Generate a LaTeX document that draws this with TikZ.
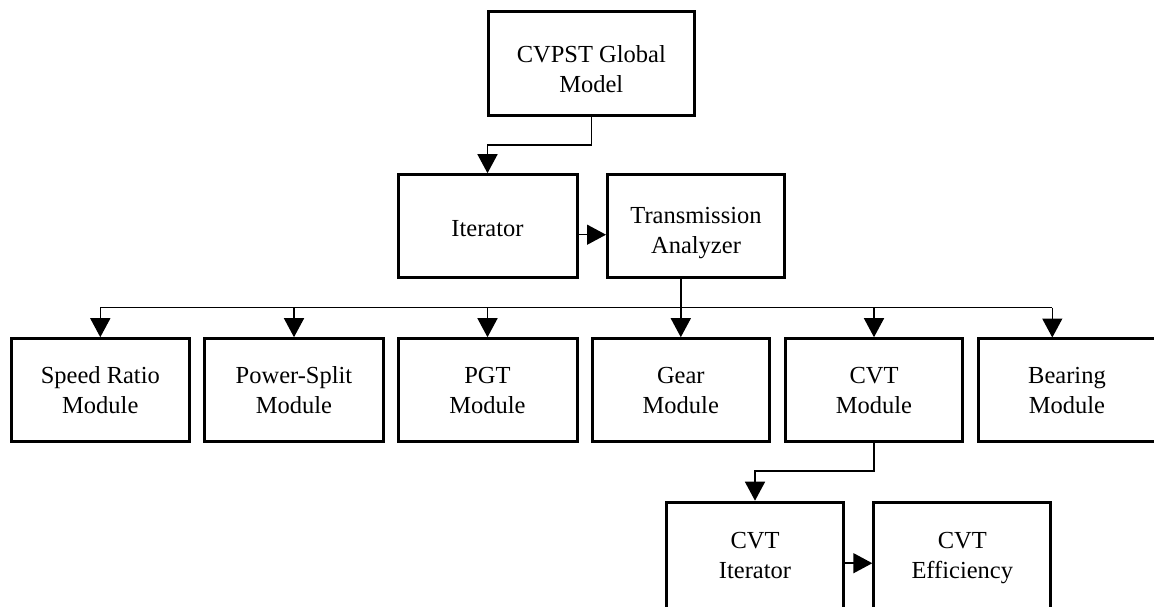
\documentclass[tikz,border=0pt]{standalone}
\usepackage{fontspec}
\setmainfont{Liberation Serif}
\usetikzlibrary{arrows.meta}

\tikzset{
  block/.style={draw, line width=3pt, inner sep=0pt, align=center,
    minimum width=177pt, minimum height=103pt,
    font=\fontsize{24.5}{30}\selectfont},
  link/.style={line width=1.5pt},
  flow/.style={link, -{Triangle[width=20pt,length=19pt]}}
}
% extra height on a first line, to lower a two-line label
\newcommand{\lowerby}[1]{\rule{0pt}{#1}}

\begin{document}
\begin{tikzpicture}[x=1pt, y=-1pt]
  \fill[white] (0,0) rectangle (1154,606);
  \useasboundingbox (0,0) rectangle (1154,606);

  % top level
  \node[block, minimum width=206pt, minimum height=104pt] (global) at (591.3,63.5) {\lowerby{29pt}CVPST Global\\Model};
  \node[block, minimum width=179pt] (iter) at (487.5,226.2) {\rule{0pt}{21pt}Iterator};
  \node[block] (trans) at (696,226.2) {\lowerby{30pt}Transmission\\Analyzer};

  % module row
  \node[block, minimum width=178pt] (speed) at (100.3,390.2) {Speed Ratio\\Module};
  \node[block, minimum width=179pt] (split) at (294,390.2) {Power-Split\\Module};
  \node[block, minimum width=179pt] (pgt) at (487.5,390.2) {PGT\\Module};
  \node[block] (gear) at (680.8,390.2) {Gear\\Module};
  \node[block] (cvt) at (874,390.2) {CVT\\Module};
  \node[block] (bearing) at (1067,390.2) {Bearing\\Module};

  % CVT sub-level
  \node[block, minimum height=107pt] (cvtiter) at (755,555.7) {\lowerby{21pt}CVT\\Iterator\vphantom{y}};
  \node[block, minimum height=107pt] (cvteff) at (962.3,555.7) {\lowerby{21pt}CVT\\Efficiency};

  % global model to iterator
  \draw[flow] (global.south) -- ++(0,28) -| (iter.north);
  % iterator to transmission analyzer
  \draw[flow] ([yshift=-8.5pt]iter.east) -- ([yshift=-8.5pt]trans.west);

  % distribution bus under the transmission analyzer
  \coordinate (busL) at (speed.north |- 0,307.7);
  \coordinate (busR) at (1052.3,307.7);
  \coordinate (bearTop) at (1052.3,337.5);
  \draw[link] (gear.north |- trans.south) -- (gear.north |- busL);
  \draw[link] (busL) -- (busR);
  \foreach \m in {speed, split, pgt, gear, cvt}
    \draw[flow] (\m.north |- busL) -- (\m.north);
  \draw[flow] (busR) -- (bearTop);

  % CVT module to its iterator, then efficiency
  \draw[flow] (cvt.south) -- ++(0,27.7) -| (cvtiter.north);
  \draw[flow] ([yshift=-7.5pt]cvtiter.east) -- ([yshift=-7.5pt]cvteff.west);
\end{tikzpicture}
\end{document}
